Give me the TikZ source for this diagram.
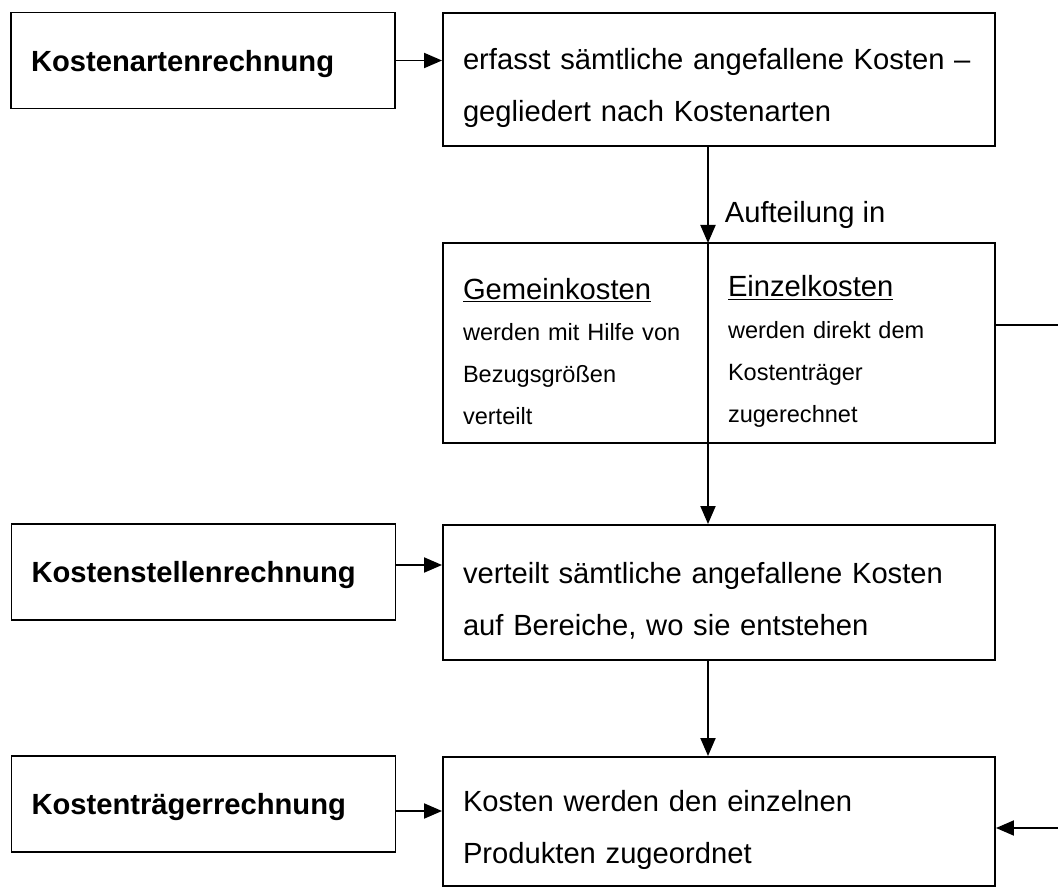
\documentclass[tikz,border=0pt]{standalone}
\usepackage{fontspec}
\setmainfont{Liberation Sans}
\usetikzlibrary{arrows.meta, positioning}
\newcommand{\mainsize}{\fontsize{16.6pt}{29.6pt}\selectfont}
\newcommand{\smallsize}{\fontsize{13.4pt}{23.8pt}\selectfont}

\begin{document}
\begin{tikzpicture}[
  every node/.style={font=\mainsize},
  stage/.style={draw, line width=1.1pt, inner xsep=0.4cm, text width=6.88cm,
                minimum height=1.92cm, align=left, font=\mainsize\bfseries,
                execute at begin node={\rule{0pt}{15.5pt}}},
  desc/.style={draw, line width=1.1pt, inner xsep=0.4cm, text width=10.24cm,
               align=left, execute at begin node={\rule{0pt}{21.5pt}}},
  half/.style={draw, line width=1.1pt, inner xsep=0.4cm, outer sep=0pt,
               minimum height=4cm, align=left, font=\smallsize},
  conn/.style={line width=1.1pt, -{Triangle[length=0.36cm, width=0.3cm]}}
]
\path[use as bounding box, clip] (0,0) rectangle (21.16,-17.76);

% -- Kostenarten --
\node[stage] (art) at (4.06,-1.21) {Kostenartenrechnung};
\node[desc, minimum height=2.66cm] (artdesc) at (14.38,-1.59)
  {erfasst sämtliche angefallene Kosten --\\gegliedert nach Kostenarten};

% -- Aufteilung --
\node[half, text width=4.5cm] (gemein) at (11.51,-6.86)
  {{\mainsize\rule{0pt}{21.5pt}\underline{Gemeinkosten}}\\werden mit Hilfe von\\Bezugsgrößen\\verteilt};
\node[half, text width=4.94cm, right=0cm of gemein] (einzel)
  {{\mainsize\rule{0pt}{21.5pt}\underline{Einzelkosten}}\\werden direkt dem\\Kostenträger\\zugerechnet};

% -- Kostenstellen --
\node[stage] (stellen) at (4.07,-11.44) {Kostenstellenrechnung};
\node[desc, minimum height=2.7cm] (stellendesc) at (14.38,-11.85)
  {verteilt sämtliche angefallene Kosten\\auf Bereiche, wo sie entstehen};

% -- Kostentraeger --
\node[stage] (traeger) at (4.07,-16.08) {Kostenträgerrechnung};
\node[desc, minimum height=2.58cm] (traegerdesc) at (14.38,-16.43)
  {Kosten werden den einzelnen\\Produkten zugeordnet};

% -- Arrows --
\draw[conn] (art.east) -- (art.east -| artdesc.west);
\draw[conn] ([yshift=0.14cm]stellen.east) -- ([yshift=0.14cm]stellen.east -| stellendesc.west);
\draw[conn] ([yshift=-0.14cm]traeger.east) -- ([yshift=-0.14cm]traeger.east -| traegerdesc.west);

\draw[conn] (artdesc.south -| gemein.north east) --
  node[pos=0.71, right=0.2cm] (auft) {Aufteilung in} (gemein.north east);
\draw[conn] (gemein.south east) -- (gemein.south east |- stellendesc.north);
\draw[conn] (stellendesc.south -| gemein.south east) -- (gemein.south east |- traegerdesc.north);

% Einzelkosten direkt zum Kostentraeger
\draw[conn] ([yshift=0.36cm]einzel.east) -- ++(1.5,0) |- ([yshift=-0.13cm]traegerdesc.east);

\end{tikzpicture}
\end{document}
